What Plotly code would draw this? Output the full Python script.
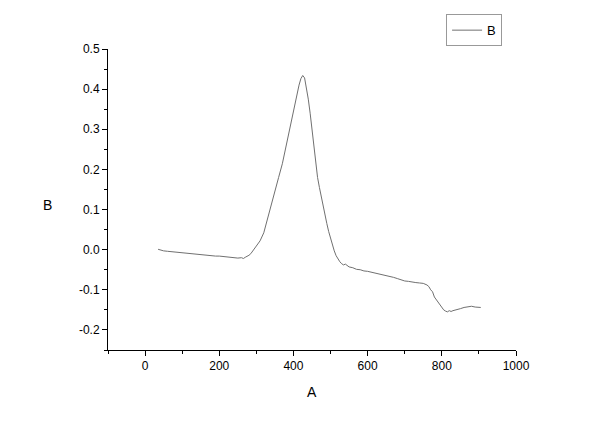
import plotly.graph_objects as go

x_vals = [35, 40, 50, 60, 70, 80, 90, 100, 110, 120, 130, 140, 150, 160, 170, 180, 190, 200,
          210, 220, 230, 240, 250, 260, 265, 270, 275, 280, 285, 290, 295, 300, 310, 320, 330,
          340, 350, 360, 370, 380, 390, 400, 405, 410, 415, 420, 425, 430, 435, 440, 445, 450,
          455, 460, 465, 470, 475, 480, 485, 490, 495, 500, 505, 510, 515, 520, 525, 530, 535,
          540, 545, 550, 560, 570, 580, 590, 600, 610, 620, 630, 640, 650, 660, 670, 680, 690,
          700, 710, 720, 730, 740, 750, 760, 765, 770, 775, 780, 785, 790, 795, 800, 805, 810,
          815, 820, 825, 830, 840, 850, 860, 870, 880, 890, 900, 905]
y_vals = [0.001, -0.001, -0.003, -0.004, -0.005, -0.006, -0.007, -0.008, -0.009, -0.010, -0.011,
          -0.012, -0.013, -0.014, -0.015, -0.015, -0.016, -0.016, -0.017, -0.018, -0.018, -0.019,
          -0.021, -0.020, -0.022, -0.019, -0.017, -0.014, -0.010, -0.004, 0.003, 0.009, 0.022,
          0.042, 0.075, 0.108, 0.145, 0.180, 0.214, 0.258, 0.300, 0.348, 0.375, 0.395, 0.410,
          0.426, 0.434, 0.428, 0.405, 0.375, 0.340, 0.300, 0.260, 0.212, 0.180, 0.155, 0.130,
          0.105, 0.085, 0.065, 0.045, 0.028, 0.012, -0.003, -0.015, -0.024, -0.030, -0.035,
          -0.038, -0.036, -0.040, -0.043, -0.045, -0.049, -0.050, -0.053, -0.054, -0.056, -0.058,
          -0.060, -0.063, -0.064, -0.066, -0.069, -0.072, -0.075, -0.078, -0.079, -0.081, -0.082,
          -0.083, -0.084, -0.088, -0.092, -0.100, -0.105, -0.118, -0.125, -0.131, -0.138, -0.145,
          -0.150, -0.153, -0.155, -0.152, -0.154, -0.152, -0.150, -0.147, -0.144, -0.142, -0.141,
          -0.143, -0.144, -0.144]

x_ticks = [0, 200, 400, 600, 800, 1000]
x_tick_labels = ["0", "200", "400", "600", "800", "1000"]
x_minor = [-100, 100, 300, 500, 700, 900]
y_ticks = [-0.2, -0.1, 0.0, 0.1, 0.2, 0.3, 0.4, 0.5]
y_tick_labels = ["-0.2", "-0.1", "0.0", "0.1", "0.2", "0.3", "0.4", "0.5"]
y_minor = [-0.25, -0.15, -0.05, 0.05, 0.15, 0.25, 0.35, 0.45]

fig = go.Figure()
fig.add_trace(go.Scatter(x=x_vals, y=y_vals, mode="lines", name="B",
                         line=dict(color="#707070", width=1)))

fnt = "Liberation Sans, Arial, sans-serif"
axis_font = dict(family=fnt, size=12, color="black")
fig.update_layout(
    width=592, height=413,
    margin=dict(l=100, r=84, t=41, b=71, autoexpand=False),
    paper_bgcolor="white", plot_bgcolor="white",
    showlegend=True,
    legend=dict(xref="container", yref="container", x=0.740, y=0.985,
                xanchor="left", yanchor="top",
                bordercolor="#999999", borderwidth=1, bgcolor="white",
                font=dict(family=fnt, size=13, color="black"),
                itemwidth=30, tracegroupgap=0),
    xaxis=dict(range=[-100, 1000], showgrid=False, zeroline=False,
               showline=True, linecolor="black", linewidth=1,
               ticks="outside", ticklen=5, tickcolor="black",
               tickmode="array", tickvals=x_ticks, ticktext=x_tick_labels,
               tickfont=axis_font,
               minor=dict(ticks="outside", ticklen=3, tickcolor="black", tickvals=x_minor)),
    yaxis=dict(range=[-0.25, 0.5], showgrid=False, zeroline=False,
               showline=True, linecolor="black", linewidth=1,
               ticks="outside", ticklen=5, tickcolor="black",
               tickmode="array", tickvals=y_ticks, ticktext=y_tick_labels,
               tickfont=axis_font,
               minor=dict(ticks="outside", ticklen=3, tickcolor="black", tickvals=y_minor)),
    annotations=[
        dict(text="A", xref="paper", yref="paper", x=0.5, y=-0.138,
             xanchor="center", yanchor="middle", showarrow=False,
             font=dict(family=fnt, size=14, color="black")),
        dict(text="B", xref="paper", yref="paper", x=-0.1495, y=0.483,
             xanchor="center", yanchor="middle", showarrow=False,
             font=dict(family=fnt, size=14, color="black")),
    ],
)

fig.write_html("out.html")
